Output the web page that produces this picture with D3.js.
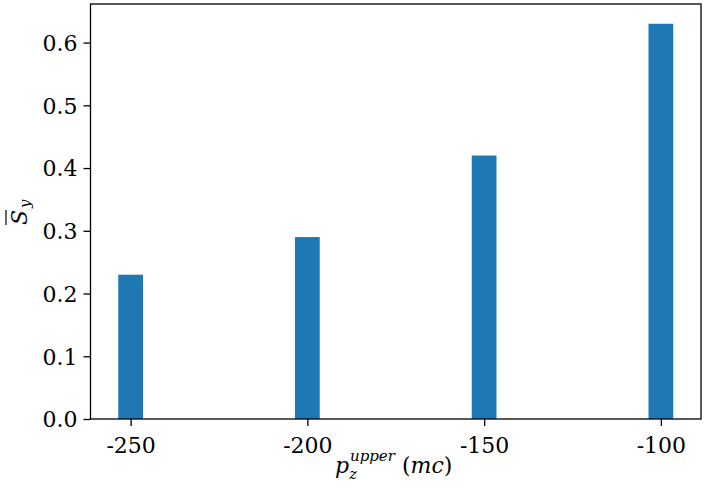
<!DOCTYPE html>
<html>
<head>
<meta charset="utf-8">
<script src="https://cdn.jsdelivr.net/npm/d3@7"></script>
<style>
  body { margin: 0; background: #fff; }
  svg text { font-family: "DejaVu Serif", "Liberation Serif", serif; }
</style>
</head>
<body>
<svg id="chart" width="709" height="491"></svg>
<script>
const categories = [-250, -200, -150, -100];
const values = [0.23, 0.29, 0.42, 0.63];
const yTicks = [0.0, 0.1, 0.2, 0.3, 0.4, 0.5, 0.6];
const barWidth = 7;

const width = 709,
    height = 491;
const margin = { top: 4, right: 8, bottom: 72, left: 90.5 };
const font = '"DejaVu Serif", "Liberation Serif", serif';

const svg = d3.select('#chart');

const x = d3.scaleLinear()
    .domain([-261.35, -88.65])
    .range([margin.left, width - margin.right]);

const y = d3.scaleLinear()
    .domain([0, 0.6615])
    .range([height - margin.bottom, margin.top]);

// bars
svg.append('g')
  .selectAll('rect')
  .data(categories)
  .join('rect')
    .attr('x', d => x(d - barWidth / 2))
    .attr('width', d => x(d + barWidth / 2) - x(d - barWidth / 2))
    .attr('y', (d, i) => y(values[i]))
    .attr('height', (d, i) => y(0) - y(values[i]))
    .attr('fill', '#1f77b4');

// axes
const xAxis = svg.append('g')
    .attr('transform', `translate(0,${height - margin.bottom})`)
    .call(d3.axisBottom(x).tickValues(categories).tickSize(7).tickPadding(9).tickFormat(d => d));

const yAxis = svg.append('g')
    .attr('transform', `translate(${margin.left},0)`)
    .call(d3.axisLeft(y).tickValues(yTicks).tickSize(7).tickPadding(6).tickFormat(d3.format('.1f')));

[xAxis, yAxis].forEach(a => {
  a.attr('font-family', font);
  a.select('.domain').remove();
  a.selectAll('line').attr('stroke', '#000').attr('stroke-width', 1.3);
  a.selectAll('text').attr('font-size', 22).attr('fill', '#000').attr('font-family', font);
});
yAxis.selectAll('text').attr('dy', '0.36em');
xAxis.selectAll('text').attr('dy', '0.8em');

// frame
svg.append('rect')
    .attr('x', margin.left)
    .attr('y', margin.top)
    .attr('width', width - margin.right - margin.left)
    .attr('height', height - margin.bottom - margin.top)
    .attr('fill', 'none')
    .attr('stroke', '#000')
    .attr('stroke-width', 1.3);

// x label: p_z^{upper} (mc)
const xl = svg.append('text')
    .attr('x', 335)
    .attr('y', 473)
    .attr('font-size', 22)
    .attr('font-family', font)
    .attr('fill', '#000');
xl.append('tspan').attr('font-style', 'italic').text('p');
xl.append('tspan').attr('font-style', 'italic').attr('font-size', 15).attr('dx', 0).attr('dy', 6).text('z');
xl.append('tspan').attr('font-style', 'italic').attr('font-size', 15).attr('dx', -7).attr('dy', -18).text('upper');
xl.append('tspan').attr('dy', 12).attr('dx', 7).text('(');
xl.append('tspan').attr('font-style', 'italic').text('mc');
xl.append('tspan').text(')');

// y label: overline S, subscript y
const yl = svg.append('g').attr('transform', 'translate(27,225) rotate(-90)');
const ylt = yl.append('text')
    .attr('font-size', 22)
    .attr('font-family', font)
    .attr('fill', '#000');
ylt.append('tspan').attr('font-style', 'italic').text('S');
ylt.append('tspan').attr('font-style', 'italic').attr('font-size', 15).attr('dx', 2).attr('dy', 3).text('y');
yl.append('line')
    .attr('x1', 0).attr('x2', 15)
    .attr('y1', -21).attr('y2', -21)
    .attr('stroke', '#000').attr('stroke-width', 1.2);
</script>
</body>
</html>
